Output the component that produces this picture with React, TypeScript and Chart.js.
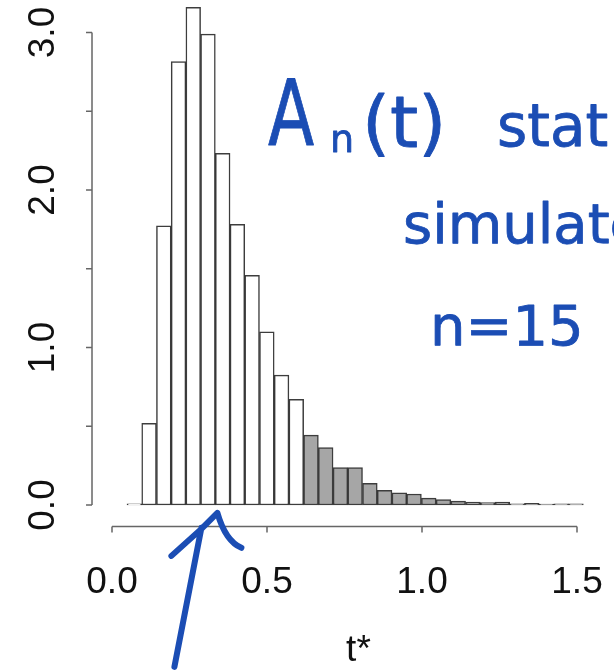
import React, { useEffect, useRef } from "react";
import { Chart, registerables } from "chart.js";

Chart.register(...registerables);

// ---- data ----
const BIN_CENTERS = [
  0.0721, 0.1196, 0.1671, 0.2146, 0.2621, 0.3096, 0.3571, 0.4045, 0.452, 0.4995,
  0.547, 0.5945, 0.642, 0.6894, 0.7369, 0.7844, 0.8319, 0.8794, 0.9269, 0.9743,
  1.0218, 1.0693, 1.1168, 1.1643, 1.2118, 1.2592, 1.3067, 1.3542, 1.4017, 1.4492,
  1.4967,
];
const DENSITY = [
  0.008, 0.518, 1.773, 2.815, 3.16, 2.99, 2.233, 1.782, 1.458, 1.1,
  0.825, 0.671, 0.444, 0.364, 0.237, 0.237, 0.138, 0.093, 0.078, 0.07,
  0.044, 0.034, 0.025, 0.019, 0.015, 0.019, 0.008, 0.01, 0.006, 0.008,
  0.008,
];
const SHADED_FROM_INDEX = 12;
const X_TICKS = [0, 0.5, 1.0, 1.5];
const X_TICK_LABELS = ["0.0", "0.5", "1.0", "1.5"];
const Y_TICKS = [0, 0.5, 1.0, 1.5, 2.0, 2.5, 3.0];
const Y_LABEL_VALUES = [0, 1, 2, 3];
const Y_TICK_LABELS = ["0.0", "1.0", "2.0", "3.0"];
const X_TITLE = "t*";
const NOTE_LINE1_MAIN = "A";
const NOTE_LINE1_SUB = "n";
const NOTE_LINE1_ARG = "(t)";
const NOTE_LINE1_WORD = "stat";
const NOTE_LINE2 = "simulated";
const NOTE_LINE3 = "n=15";
const ARROW_T = 0.34;

// ---- styles ----
const W = 614;
const H = 671;
const AXIS_FONT = "'Liberation Sans', Arial, Helvetica, sans-serif";
const HAND_FONT = "'DejaVu Sans', sans-serif";
const BLUE = "#1b4db4";
const AXIS_COLOR = "#666";

const rAxisPlugin = {
  id: "rAxes",
  beforeDatasetsDraw(chart: any) {
    const { ctx, scales } = chart;
    const xs = scales.x;
    const ys = scales.y;
    const axisX = xs.getPixelForValue(-0.0645);
    const axisY = ys.getPixelForValue(-0.1365);
    ctx.save();
    ctx.strokeStyle = AXIS_COLOR;
    ctx.lineWidth = 1.5;
    ctx.beginPath();
    ctx.moveTo(axisX, ys.getPixelForValue(Y_TICKS[0]));
    ctx.lineTo(axisX, ys.getPixelForValue(Y_TICKS[Y_TICKS.length - 1]));
    for (const t of Y_TICKS) {
      const py = ys.getPixelForValue(t);
      ctx.moveTo(axisX, py);
      ctx.lineTo(axisX - 6, py);
    }
    ctx.moveTo(xs.getPixelForValue(X_TICKS[0]), axisY);
    ctx.lineTo(xs.getPixelForValue(X_TICKS[X_TICKS.length - 1]), axisY);
    for (const t of X_TICKS) {
      const px = xs.getPixelForValue(t);
      ctx.moveTo(px, axisY);
      ctx.lineTo(px, axisY + 6);
    }
    ctx.stroke();

    ctx.fillStyle = "#111";
    ctx.font = `37px ${AXIS_FONT}`;
    ctx.textAlign = "center";
    ctx.textBaseline = "alphabetic";
    X_TICKS.forEach((t, i) => {
      ctx.fillText(X_TICK_LABELS[i], xs.getPixelForValue(t), axisY + 67);
    });
    Y_LABEL_VALUES.forEach((v, i) => {
      ctx.save();
      ctx.translate(axisX - 38, ys.getPixelForValue(v));
      ctx.rotate(-Math.PI / 2);
      ctx.fillText(Y_TICK_LABELS[i], 0, 0);
      ctx.restore();
    });
    ctx.fillText(X_TITLE, xs.getPixelForValue(0.795), axisY + 135);
    ctx.restore();
  },
  afterDraw(chart: any) {
    const { ctx, scales } = chart;
    const xs = scales.x;
    const ys = scales.y;
    ctx.save();
    ctx.fillStyle = BLUE;
    ctx.strokeStyle = BLUE;
    ctx.lineJoin = "round";
    ctx.lineCap = "round";
    const hand = (text: string, x: number, y: number, size: number, sx = 1) => {
      ctx.save();
      ctx.translate(x, y);
      ctx.scale(sx, 1);
      ctx.font = `${size}px ${HAND_FONT}`;
      ctx.textAlign = "left";
      ctx.textBaseline = "alphabetic";
      ctx.lineWidth = 0.8;
      ctx.strokeText(text, 0, 0);
      ctx.fillText(text, 0, 0);
      ctx.restore();
    };
    hand(NOTE_LINE1_MAIN, 268, 145, 90, 0.75);
    hand(NOTE_LINE1_SUB, 330, 152, 38);
    hand(NOTE_LINE1_ARG, 362, 147, 72);
    hand(NOTE_LINE1_WORD, 497, 146, 58);
    hand(NOTE_LINE2, 403, 243, 56);
    hand(NOTE_LINE3, 430, 345, 56);

    const tipX = xs.getPixelForValue(ARROW_T);
    const tipY = ys.getPixelForValue(-0.05);
    ctx.lineWidth = 6;
    ctx.beginPath();
    ctx.moveTo(tipX - 43, tipY + 154);
    ctx.lineTo(tipX - 16, tipY + 15);
    ctx.moveTo(tipX - 46, tipY + 43);
    ctx.lineTo(tipX - 16, tipY + 16);
    ctx.lineTo(tipX, tipY);
    ctx.quadraticCurveTo(tipX + 8, tipY + 28, tipX + 24, tipY + 35);
    ctx.stroke();
    ctx.restore();
  },
};

export default function App() {
  const ref = useRef<HTMLCanvasElement | null>(null);
  useEffect(() => {
    document.body.style.margin = "0";
    const canvas = ref.current;
    if (!canvas) return;
    const chart = new Chart(canvas, {
      type: "bar",
      data: {
        datasets: [
          {
            data: BIN_CENTERS.map((c, i) => ({ x: c, y: DENSITY[i] })),
            backgroundColor: DENSITY.map((_, i) => (i >= SHADED_FROM_INDEX ? "#a6a6a6" : "#ffffff")),
            borderColor: "rgba(40,40,40,0.9)",
            borderWidth: 1.5,
            borderSkipped: false,
            barPercentage: 1,
            categoryPercentage: 1,
          },
        ],
      },
      options: {
        responsive: false,
        animation: false,
        events: [],
        layout: { padding: 0 },
        plugins: { legend: { display: false }, tooltip: { enabled: false }, title: { display: false } },
        scales: {
          x: {
            type: "linear",
            display: false,
            offset: false,
            min: -0.36129,
            max: 1.61935,
            ticks: { stepSize: 0.5, includeBounds: false },
          },
          y: {
            type: "linear",
            display: false,
            min: -1.054,
            max: 3.2063,
          },
        },
      },
      plugins: [rAxisPlugin],
    });
    return () => chart.destroy();
  }, []);
  return (
    <div style={{ position: "absolute", left: 0, top: 0, width: W, height: H, overflow: "hidden", background: "#fff" }}>
      <canvas ref={ref} width={W} height={H} style={{ display: "block", width: W, height: H }} />
    </div>
  );
}
